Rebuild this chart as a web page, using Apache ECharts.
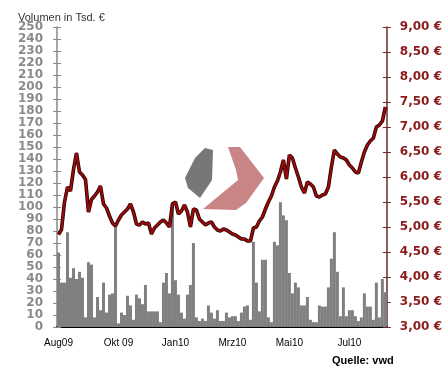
<!DOCTYPE html>
<html><head><meta charset="utf-8">
<script src="https://cdn.jsdelivr.net/npm/echarts@6/dist/echarts.min.js"></script>
<style>html,body{margin:0;padding:0;background:#fff}#c{width:445px;height:369px}</style>
</head><body><div id="c"></div>
<script>
const xTickLabels = ['Aug09','Okt 09','Jan10','Mrz10','Mai10','Jul10'];
const xTickIndex = [0,20,39,58,77,97];
const volume = [62,37,37,79,41,49,40,46,41,8,
  54,52,8,25,14,37,12,27,28,85,
  3,12,10,26,18,6,27,24,19,35,
  13,13,13,13,4,37,45,28,104,39,
  27,12,7,27,35,70,8,5,7,5,
  18,12,7,14,5,5,12,8,9,9,
  5,12,17,18,6,71,37,13,56,56,
  8,4,71,68,104,93,89,45,28,37,
  33,18,18,25,6,4,4,18,17,17,
  33,57,79,46,9,33,9,14,14,9,
  5,8,28,17,17,6,37,8,40,29];
const price = [4.85,4.95,5.5,5.8,5.72,6.15,6.48,6.1,6.04,5.95,
  5.3,5.55,5.62,5.7,5.82,5.46,5.38,5.22,5.08,5.02,
  5.14,5.24,5.3,5.36,5.46,5.3,5.06,5.04,5.1,5.06,
  5.08,4.86,4.98,5.04,5.1,5.14,5.08,5.0,5.46,5.5,
  5.26,5.32,5.44,5.3,5.0,5.36,5.34,5.16,5.1,5.04,
  5.08,5.1,5.0,4.94,4.92,4.96,4.94,4.9,4.86,4.84,
  4.8,4.76,4.76,4.72,4.72,4.98,5.0,5.12,5.2,5.36,
  5.5,5.62,5.8,5.92,6.1,6.34,5.96,6.44,6.38,6.18,
  6.0,5.8,5.68,5.9,5.86,5.8,5.62,5.6,5.64,5.66,
  5.8,6.2,6.54,6.46,6.4,6.38,6.34,6.24,6.18,6.1,
  6.08,6.3,6.5,6.64,6.72,6.78,7.0,7.04,7.12,7.4];
const categories = volume.map((v,i)=>{const k=xTickIndex.indexOf(i);return k>=0?xTickLabels[k]:'';});

const chart = echarts.init(document.getElementById('c'));
const fmtEuro = v => v.toFixed(2).replace('.',',') + ' €';
const leftLbl = {fontFamily:'DejaVu Sans',fontWeight:'bold',fontSize:12,color:'#8a8a8a',margin:14};
const rightLbl = {fontFamily:'DejaVu Sans',fontWeight:'bold',fontSize:12,color:'#8b1a1a',margin:13,formatter:fmtEuro};
chart.setOption({
  animation:false,
  backgroundColor:'#fff',
  title:{text:'Volumen in Tsd. €',left:13,top:7,textStyle:{fontFamily:'Liberation Sans',fontSize:11,fontWeight:'normal',color:'#333'}},
  graphic:[
    {type:'polygon',z:0,shape:{points:[[205,148],[213,150],[212,180],[200,198],[188,188],[185,178],[195,158]]},style:{fill:'#777'}},
    {type:'polygon',z:0,shape:{points:[[228,147],[240,147],[264,178],[246,203],[236,210],[203,209],[238,180],[236,170]]},style:{fill:'#c98585'}},
    {type:'text',left:332,top:355,z:10,style:{text:'Quelle: vwd',font:'bold 11px "Liberation Sans"',fill:'#000'}}
  ],
  grid:{left:57,right:58,top:27,bottom:42},
  xAxis:{type:'category',data:categories,boundaryGap:true,
    axisLine:{lineStyle:{color:'#000',width:2}},axisTick:{show:false},
    axisLabel:{interval:(i)=>xTickIndex.indexOf(i)>=0,fontFamily:'Liberation Sans',fontSize:10,color:'#000',margin:11},
    splitLine:{show:false}},
  yAxis:[
    {type:'value',position:'left',min:0,max:250,interval:10,
      axisLine:{show:true,lineStyle:{color:'#888',width:1.5}},axisTick:{show:true,length:4,lineStyle:{color:'#888'}},
      axisLabel:leftLbl,splitLine:{show:false}},
    {type:'value',position:'right',min:3,max:9,interval:0.5,
      axisLine:{show:true,lineStyle:{color:'#6b2b2b',width:1.5}},axisTick:{show:true,length:4,lineStyle:{color:'#6b2b2b'}},
      axisLabel:rightLbl,splitLine:{show:false}},
    {type:'value',position:'left',min:0,max:250,interval:10,
      axisLine:{show:false},axisTick:{show:true,inside:true,length:4,lineStyle:{color:'#888'}},
      axisLabel:{show:false},splitLine:{show:false}},
    {type:'value',position:'right',min:3,max:9,interval:0.5,
      axisLine:{show:false},axisTick:{show:true,inside:true,length:4,lineStyle:{color:'#6b2b2b'}},
      axisLabel:{show:false},splitLine:{show:false}}
  ],
  series:[
    {type:'bar',yAxisIndex:0,data:volume,barCategoryGap:'0%',itemStyle:{color:'#808080'},z:2},
    {type:'line',yAxisIndex:1,data:price,symbol:'none',lineStyle:{color:'#2a0000',width:3.6},z:3},
    {type:'line',yAxisIndex:1,data:price,symbol:'none',lineStyle:{color:'#9a0a0a',width:2},z:4}
  ]
});
</script></body></html>
